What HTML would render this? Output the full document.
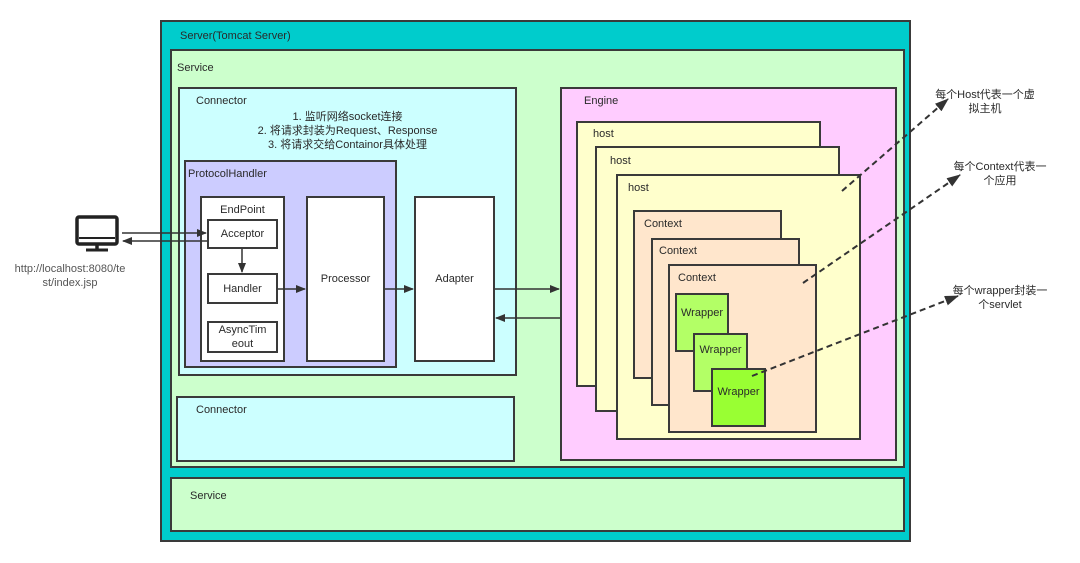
<!DOCTYPE html>
<html><head><meta charset="utf-8"><style>
body{margin:0;width:1080px;height:563px;background:#fff;position:relative;overflow:hidden;font-family:"Liberation Sans","Noto Sans CJK SC",sans-serif;font-size:11px;color:#2a2a2a}
.b{position:absolute;box-sizing:border-box;border:2px solid #3a3a3a}
.t{position:absolute;white-space:nowrap}
.c{display:flex;align-items:center;justify-content:center;text-align:center}
</style></head><body>
<div class="b" style="left:160px;top:20px;width:751px;height:522px;background:#00cccc"></div>
<div class="t" style="left:180px;top:30px">Server(Tomcat Server)</div>
<div class="b" style="left:170px;top:49px;width:735px;height:419px;background:#ccffcc"></div>
<div class="t" style="left:177px;top:62px">Service</div>
<div class="b" style="left:170px;top:477px;width:735px;height:55px;background:#ccffcc"></div>
<div class="t" style="left:190px;top:490px">Service</div>

<div class="b" style="left:178px;top:87px;width:339px;height:289px;background:#ccffff"></div>
<div class="t" style="left:196px;top:95px">Connector</div>
<div class="t" style="left:178px;top:110px;width:339px;text-align:center;line-height:14px;white-space:normal">1. 监听网络socket连接<br>2. 将请求封装为Request、Response<br>3. 将请求交给Containor具体处理</div>
<div class="b" style="left:176px;top:396px;width:339px;height:66px;background:#ccffff"></div>
<div class="t" style="left:196px;top:404px">Connector</div>

<div class="b" style="left:184px;top:160px;width:213px;height:208px;background:#ccccff"></div>
<div class="t" style="left:188px;top:168px">ProtocolHandler</div>
<div class="b" style="left:200px;top:196px;width:85px;height:166px;background:#fff"></div>
<div class="t" style="left:200px;top:204px;width:85px;text-align:center">EndPoint</div>
<div class="b c" style="left:207px;top:219px;width:71px;height:30px;background:#fff">Acceptor</div>
<div class="b c" style="left:207px;top:273px;width:71px;height:31px;background:#fff">Handler</div>
<div class="b c" style="left:207px;top:321px;width:71px;height:32px;background:#fff;line-height:14px">AsyncTim<br>eout</div>
<div class="b c" style="left:306px;top:196px;width:79px;height:166px;background:#fff">Processor</div>
<div class="b c" style="left:414px;top:196px;width:81px;height:166px;background:#fff">Adapter</div>

<div class="b" style="left:560px;top:87px;width:337px;height:374px;background:#ffccff"></div>
<div class="t" style="left:584px;top:95px">Engine</div>
<div class="b" style="left:576px;top:121px;width:245px;height:266px;background:#ffffcc"></div>
<div class="t" style="left:593px;top:128px">host</div>
<div class="b" style="left:595px;top:146px;width:245px;height:266px;background:#ffffcc"></div>
<div class="t" style="left:610px;top:155px">host</div>
<div class="b" style="left:616px;top:174px;width:245px;height:266px;background:#ffffcc"></div>
<div class="t" style="left:628px;top:182px">host</div>
<div class="b" style="left:633px;top:210px;width:149px;height:169px;background:#ffe6cc"></div>
<div class="t" style="left:644px;top:218px">Context</div>
<div class="b" style="left:651px;top:238px;width:149px;height:168px;background:#ffe6cc"></div>
<div class="t" style="left:659px;top:245px">Context</div>
<div class="b" style="left:668px;top:264px;width:149px;height:169px;background:#ffe6cc"></div>
<div class="t" style="left:678px;top:272px">Context</div>
<div class="b" style="left:675px;top:293px;width:54px;height:59px;background:#b3ff66"></div>
<div class="t" style="left:675px;top:307px;width:54px;text-align:center">Wrapper</div>
<div class="b" style="left:693px;top:333px;width:55px;height:59px;background:#b3ff66"></div>
<div class="t" style="left:693px;top:344px;width:55px;text-align:center">Wrapper</div>
<div class="b" style="left:711px;top:368px;width:55px;height:59px;background:#99ff33"></div>
<div class="t" style="left:711px;top:386px;width:55px;text-align:center">Wrapper</div>

<div class="t" style="left:935px;top:88px;width:100px;text-align:center;line-height:14px">每个Host代表一个虚<br>拟主机</div>
<div class="t" style="left:950px;top:160px;width:100px;text-align:center;line-height:14px">每个Context代表一<br>个应用</div>
<div class="t" style="left:950px;top:284px;width:100px;text-align:center;line-height:14px">每个wrapper封装一<br>个servlet</div>
<div class="t" style="left:0px;top:262px;width:140px;text-align:center;line-height:14px;color:#555">http://localhost:8080/te<br>st/index.jsp</div>

<svg width="1080" height="563" style="position:absolute;left:0;top:0">
<defs><marker id="a" markerWidth="10" markerHeight="8" refX="9" refY="4" orient="auto" markerUnits="userSpaceOnUse"><path d="M0,0L10,4L0,8z" fill="#333"/></marker>
<marker id="d" markerWidth="14" markerHeight="10" refX="13" refY="5" orient="auto" markerUnits="userSpaceOnUse"><path d="M0,0L14,5L0,10z" fill="#333"/></marker></defs>
<g stroke="#333" stroke-width="1.5" fill="none">
<line x1="122" y1="233" x2="206" y2="233" marker-end="url(#a)"/>
<line x1="207" y1="241" x2="123" y2="241" marker-end="url(#a)"/>
<line x1="242" y1="249" x2="242" y2="272" marker-end="url(#a)"/>
<line x1="278" y1="289" x2="305" y2="289" marker-end="url(#a)"/>
<line x1="385" y1="289" x2="413" y2="289" marker-end="url(#a)"/>
<line x1="495" y1="289" x2="559" y2="289" marker-end="url(#a)"/>
<line x1="560" y1="318" x2="496" y2="318" marker-end="url(#a)"/>
<g stroke-dasharray="6,4" stroke-width="2"><line x1="842" y1="191" x2="948" y2="99" marker-end="url(#d)"/>
<line x1="803" y1="283" x2="960" y2="175" marker-end="url(#d)"/>
<line x1="752" y1="376" x2="958" y2="296" marker-end="url(#d)"/></g>
</g>
<g stroke="#222" stroke-width="3.5" fill="none"><rect x="77" y="217" width="40" height="27" rx="2"/><line x1="79" y1="238" x2="115" y2="238" stroke-width="2"/><line x1="97" y1="244" x2="97" y2="249"/><line x1="86" y1="250" x2="108" y2="250" stroke-width="3"/></g>
</svg>
</body></html>
